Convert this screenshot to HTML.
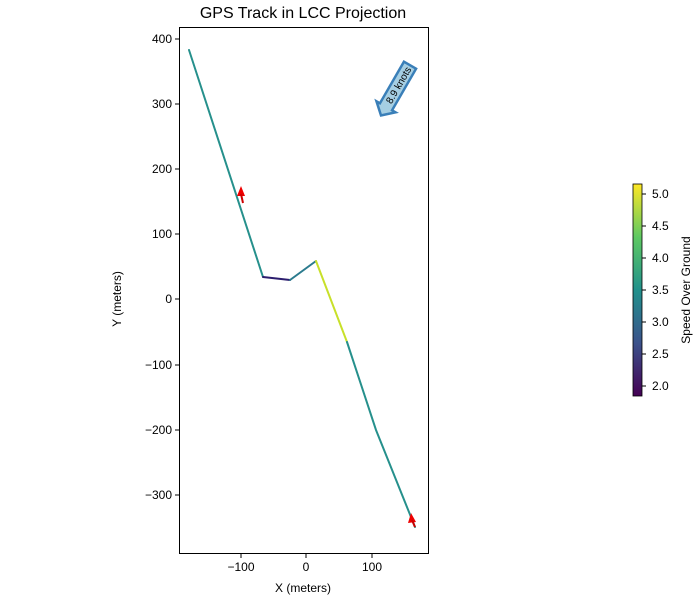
<!DOCTYPE html>
<html><head><style>body{margin:0;background:#fff}svg{font-family:"Liberation Sans","DejaVu Sans",sans-serif}</style></head><body>
<svg width="700" height="600" viewBox="0 0 700 600" xmlns="http://www.w3.org/2000/svg">
<defs><linearGradient id="vir" x1="0" y1="1" x2="0" y2="0">
<stop offset="0" stop-color="#440154"/><stop offset="0.25" stop-color="#3b528b"/><stop offset="0.5" stop-color="#21918c"/><stop offset="0.75" stop-color="#5ec962"/><stop offset="1" stop-color="#fde725"/></linearGradient></defs>
<text x="303" y="18" font-size="16" text-anchor="middle">GPS Track in LCC Projection</text>
<g fill="none" stroke-width="2" stroke-linecap="round">
<polyline points="189,50 263,277" stroke="#26908c"/>
<polyline points="263,277 290,280" stroke="#2c1d6e"/>
<polyline points="290,280 316,261" stroke="#2b7b8e"/>
<polyline points="316,261 347,342" stroke="#c8e02a"/>
<polyline points="347,342 376,430 415,527" stroke="#26908c"/>
</g>
<polygon points="241,186 237,196 245,196" fill="#e00"/>
<line x1="241" y1="194" x2="243" y2="203" stroke="#c00" stroke-width="2"/>
<polygon points="411,513 408,523 416,522" fill="#e00"/>
<line x1="412" y1="520" x2="415" y2="527" stroke="#c00" stroke-width="2"/>
<g transform="translate(398,86) rotate(-60)">
<polygon points="-24,-7 24,-7 24,7 -24,7 -24,11 -34,0 -24,-11" fill="#a6cfe3" stroke="#3a7fb8" stroke-width="2.5"/>
<text x="1" y="3.5" font-size="10" text-anchor="middle">8.9 knots</text>
</g>
<rect x="179.5" y="27.5" width="249" height="526" fill="none" stroke="#000" stroke-width="1"/>
<g font-size="12" text-anchor="middle">
<line x1="241" y1="554" x2="241" y2="558" stroke="#000"/><text x="241" y="571">−100</text>
<line x1="306" y1="554" x2="306" y2="558" stroke="#000"/><text x="306" y="571">0</text>
<line x1="372" y1="554" x2="372" y2="558" stroke="#000"/><text x="372" y="571">100</text>
<text x="303" y="592">X (meters)</text>
</g>
<g font-size="12" text-anchor="end">
<line x1="175" y1="39" x2="179" y2="39" stroke="#000"/><text x="172" y="43">400</text>
<line x1="175" y1="104" x2="179" y2="104" stroke="#000"/><text x="172" y="108">300</text>
<line x1="175" y1="169" x2="179" y2="169" stroke="#000"/><text x="172" y="173">200</text>
<line x1="175" y1="234" x2="179" y2="234" stroke="#000"/><text x="172" y="238">100</text>
<line x1="175" y1="299" x2="179" y2="299" stroke="#000"/><text x="172" y="303">0</text>
<line x1="175" y1="365" x2="179" y2="365" stroke="#000"/><text x="172" y="369">−100</text>
<line x1="175" y1="430" x2="179" y2="430" stroke="#000"/><text x="172" y="434">−200</text>
<line x1="175" y1="495" x2="179" y2="495" stroke="#000"/><text x="172" y="499">−300</text>
</g>
<text transform="translate(121,299) rotate(-90)" font-size="12" text-anchor="middle">Y (meters)</text>
<rect x="633" y="184" width="9" height="212" fill="url(#vir)" stroke="#000" stroke-width="0.8"/>
<g font-size="12">
<line x1="642" y1="386" x2="646" y2="386" stroke="#000"/><text x="652" y="390">2.0</text>
<line x1="642" y1="354" x2="646" y2="354" stroke="#000"/><text x="652" y="358">2.5</text>
<line x1="642" y1="322" x2="646" y2="322" stroke="#000"/><text x="652" y="326">3.0</text>
<line x1="642" y1="290" x2="646" y2="290" stroke="#000"/><text x="652" y="294">3.5</text>
<line x1="642" y1="258" x2="646" y2="258" stroke="#000"/><text x="652" y="262">4.0</text>
<line x1="642" y1="226" x2="646" y2="226" stroke="#000"/><text x="652" y="230">4.5</text>
<line x1="642" y1="194" x2="646" y2="194" stroke="#000"/><text x="652" y="198">5.0</text>
</g>
<text transform="translate(690,290) rotate(-90)" font-size="12" text-anchor="middle">Speed Over Ground</text>
</svg>
</body></html>
